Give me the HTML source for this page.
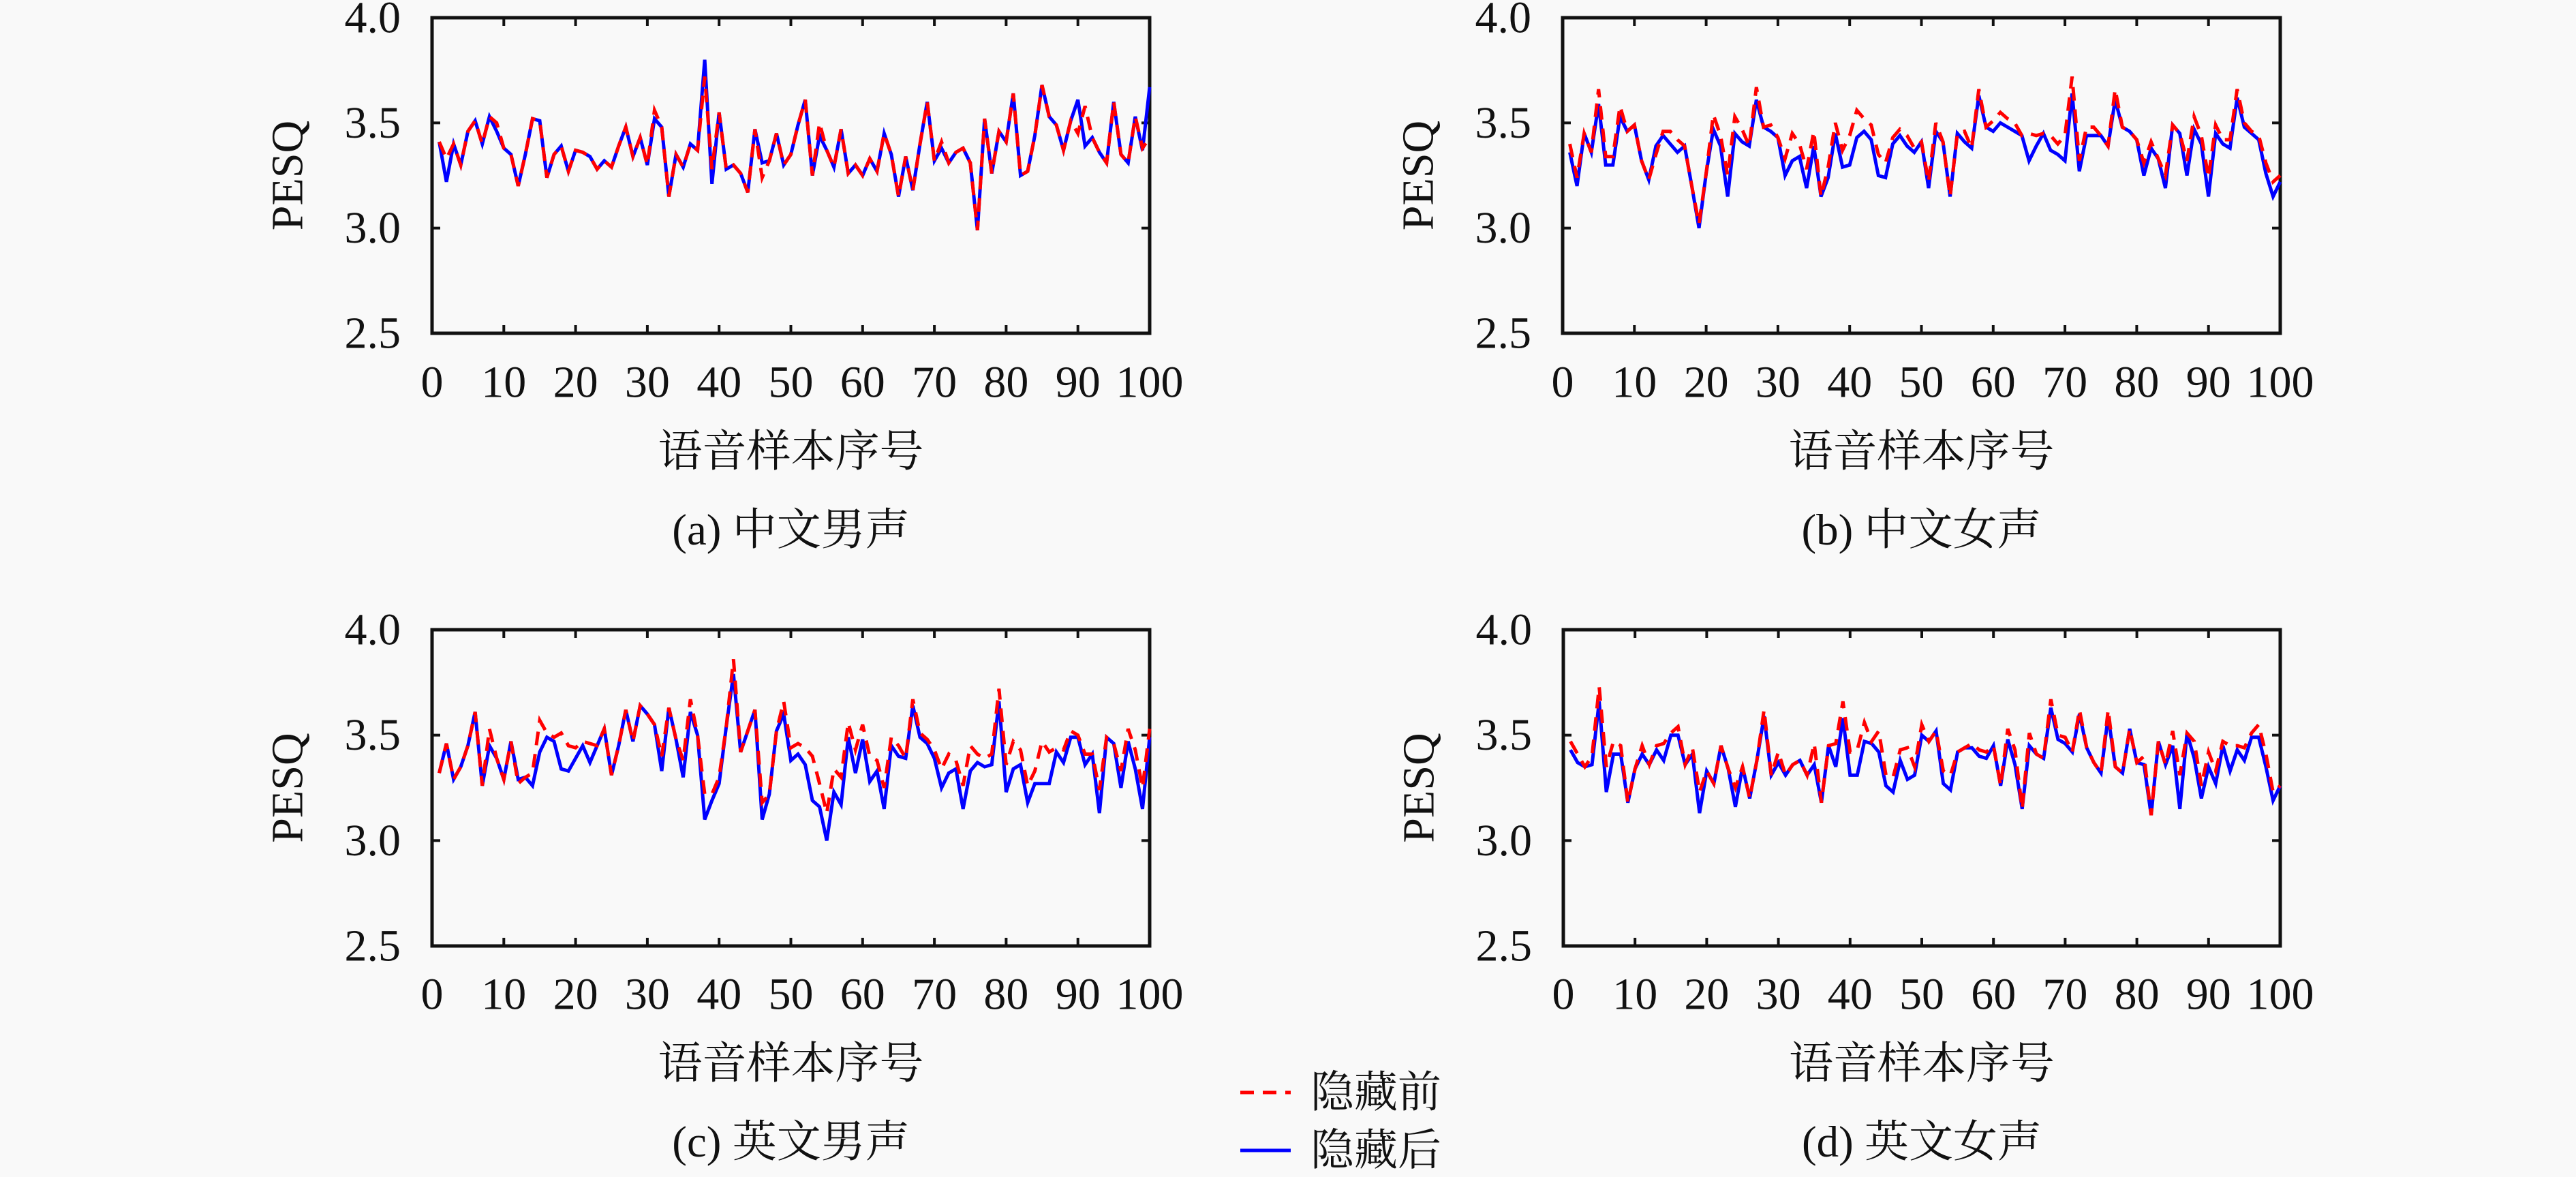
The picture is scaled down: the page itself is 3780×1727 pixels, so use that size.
<!DOCTYPE html>
<html><head><meta charset="utf-8">
<style>
html,body{margin:0;padding:0;background:#f9f9f9;}
svg{display:block;}
text{font-family:"Liberation Serif","Noto Serif CJK SC","Noto Sans CJK SC",serif;fill:#111;}
</style></head>
<body>
<svg id="fig" xmlns="http://www.w3.org/2000/svg" width="3780" height="1727" viewBox="0 0 3780 1727">
<rect x="0" y="0" width="3780" height="1727" fill="#f9f9f9"/>
<g>
  <line x1="1820" y1="1603" x2="1894" y2="1603" stroke="#ff0000" stroke-width="5" stroke-dasharray="20,13"/>
  <text x="1923" y="1603" font-size="64" dominant-baseline="central">隐藏前</text>
  <line x1="1820" y1="1688" x2="1894" y2="1688" stroke="#0000ff" stroke-width="5"/>
  <text x="1923" y="1688" font-size="64" dominant-baseline="central">隐藏后</text>
</g>
</svg>
<script>
const xTicks = [0,10,20,30,40,50,60,70,80,90,100];
const yTicks = [2.5,3.0,3.5,4.0];
const yTickLabels = ["2.5","3.0","3.5","4.0"];
const xLabel = "语音样本序号";
const yLabel = "PESQ";
const captions = ["(a) 中文男声","(b) 中文女声","(c) 英文男声","(d) 英文女声"];

const blueA = [3.41,3.22,3.40,3.30,3.46,3.51,3.40,3.53,3.46,3.38,
3.35,3.20,3.35,3.52,3.51,3.24,3.35,3.39,3.27,3.37,
3.36,3.34,3.28,3.32,3.29,3.39,3.48,3.34,3.43,3.30,
3.52,3.48,3.15,3.35,3.29,3.40,3.37,3.80,3.21,3.55,
3.28,3.30,3.26,3.17,3.47,3.31,3.32,3.45,3.30,3.35,
3.49,3.61,3.25,3.44,3.37,3.29,3.47,3.26,3.30,3.25,
3.33,3.27,3.45,3.35,3.15,3.34,3.18,3.40,3.60,3.32,
3.38,3.31,3.36,3.38,3.31,2.99,3.52,3.26,3.46,3.41,
3.64,3.25,3.27,3.44,3.68,3.53,3.49,3.37,3.51,3.61,
3.39,3.43,3.36,3.31,3.60,3.35,3.31,3.53,3.37,3.67];
const redA = [3.41,3.33,3.40,3.30,3.46,3.51,3.40,3.53,3.50,3.38,
3.35,3.20,3.35,3.52,3.51,3.24,3.35,3.39,3.27,3.37,
3.36,3.34,3.28,3.32,3.29,3.39,3.48,3.34,3.43,3.30,
3.56,3.48,3.15,3.35,3.29,3.40,3.37,3.72,3.28,3.55,
3.28,3.30,3.26,3.17,3.47,3.24,3.32,3.45,3.30,3.35,
3.49,3.61,3.25,3.50,3.37,3.29,3.47,3.26,3.30,3.25,
3.33,3.27,3.45,3.35,3.15,3.34,3.18,3.40,3.60,3.32,
3.41,3.31,3.36,3.38,3.31,2.99,3.52,3.26,3.46,3.41,
3.64,3.25,3.27,3.44,3.68,3.53,3.49,3.37,3.51,3.45,
3.58,3.43,3.36,3.31,3.60,3.35,3.31,3.53,3.38,3.43];
const blueB = [3.36,3.20,3.45,3.36,3.59,3.30,3.30,3.53,3.46,3.49,
3.32,3.23,3.39,3.44,3.40,3.36,3.39,3.20,3.00,3.26,
3.47,3.39,3.15,3.45,3.41,3.39,3.61,3.48,3.46,3.43,
3.25,3.32,3.34,3.19,3.39,3.15,3.24,3.45,3.29,3.30,
3.43,3.46,3.42,3.25,3.24,3.40,3.44,3.39,3.36,3.41,
3.19,3.46,3.41,3.15,3.45,3.41,3.38,3.63,3.48,3.46,
3.50,3.48,3.46,3.44,3.32,3.39,3.45,3.37,3.35,3.32,
3.64,3.27,3.44,3.44,3.44,3.39,3.61,3.48,3.46,3.42,
3.25,3.38,3.33,3.19,3.49,3.45,3.25,3.47,3.40,3.15,
3.45,3.40,3.38,3.62,3.48,3.45,3.42,3.26,3.15,3.22];
const redB = [3.40,3.24,3.45,3.36,3.66,3.34,3.34,3.58,3.46,3.49,
3.32,3.23,3.35,3.46,3.46,3.42,3.39,3.20,3.02,3.26,
3.54,3.44,3.25,3.53,3.47,3.39,3.67,3.48,3.49,3.43,
3.33,3.45,3.40,3.28,3.46,3.15,3.29,3.50,3.37,3.44,
3.56,3.52,3.49,3.35,3.31,3.43,3.47,3.44,3.38,3.41,
3.22,3.50,3.41,3.15,3.45,3.46,3.38,3.66,3.48,3.51,
3.55,3.52,3.50,3.44,3.45,3.44,3.45,3.44,3.40,3.44,
3.72,3.32,3.48,3.48,3.44,3.39,3.66,3.48,3.46,3.42,
3.31,3.41,3.33,3.25,3.49,3.45,3.32,3.53,3.44,3.24,
3.49,3.42,3.42,3.66,3.50,3.46,3.44,3.31,3.22,3.25];
const blueC = [3.32,3.46,3.29,3.35,3.45,3.61,3.26,3.45,3.39,3.29,
3.47,3.29,3.30,3.26,3.42,3.49,3.47,3.34,3.33,3.39,
3.45,3.37,3.45,3.53,3.31,3.45,3.62,3.47,3.64,3.60,
3.55,3.33,3.63,3.48,3.30,3.61,3.50,3.10,3.19,3.27,
3.54,3.79,3.42,3.52,3.62,3.10,3.22,3.52,3.60,3.38,
3.41,3.36,3.19,3.16,3.00,3.23,3.17,3.49,3.32,3.48,
3.28,3.33,3.15,3.45,3.40,3.39,3.64,3.49,3.46,3.39,
3.25,3.32,3.34,3.15,3.33,3.37,3.35,3.36,3.66,3.23,
3.34,3.36,3.18,3.27,3.27,3.27,3.42,3.37,3.49,3.49,
3.36,3.41,3.13,3.49,3.46,3.25,3.47,3.34,3.15,3.49];
const redC = [3.32,3.46,3.29,3.35,3.45,3.61,3.26,3.53,3.39,3.29,
3.47,3.27,3.30,3.32,3.57,3.51,3.49,3.51,3.45,3.44,
3.47,3.46,3.45,3.53,3.31,3.45,3.62,3.47,3.64,3.60,
3.55,3.40,3.63,3.48,3.38,3.67,3.50,3.22,3.22,3.30,
3.54,3.86,3.42,3.52,3.62,3.18,3.22,3.52,3.66,3.44,
3.46,3.44,3.40,3.27,3.13,3.34,3.30,3.56,3.43,3.55,
3.40,3.38,3.25,3.49,3.45,3.39,3.67,3.51,3.48,3.43,
3.34,3.41,3.38,3.26,3.45,3.41,3.39,3.41,3.72,3.36,
3.47,3.43,3.26,3.33,3.47,3.42,3.44,3.43,3.52,3.50,
3.41,3.41,3.24,3.49,3.46,3.33,3.53,3.43,3.25,3.53];
const blueD = [3.43,3.37,3.35,3.36,3.66,3.23,3.41,3.41,3.18,3.34,
3.41,3.36,3.43,3.38,3.50,3.50,3.36,3.41,3.13,3.33,
3.27,3.45,3.34,3.16,3.35,3.20,3.38,3.59,3.31,3.37,
3.31,3.36,3.38,3.31,3.36,3.18,3.45,3.35,3.58,3.31,
3.31,3.47,3.46,3.42,3.26,3.23,3.38,3.29,3.31,3.50,
3.47,3.52,3.27,3.24,3.42,3.44,3.44,3.40,3.39,3.45,
3.26,3.48,3.36,3.15,3.45,3.41,3.39,3.63,3.48,3.46,
3.42,3.60,3.44,3.37,3.32,3.59,3.35,3.32,3.53,3.37,
3.36,3.12,3.47,3.36,3.45,3.15,3.51,3.39,3.20,3.35,
3.27,3.45,3.33,3.43,3.38,3.49,3.49,3.35,3.19,3.26];
const redD = [3.47,3.41,3.35,3.40,3.73,3.35,3.47,3.45,3.18,3.34,
3.45,3.36,3.45,3.46,3.51,3.54,3.36,3.44,3.23,3.33,
3.27,3.45,3.34,3.25,3.35,3.20,3.38,3.62,3.31,3.42,
3.31,3.36,3.38,3.31,3.46,3.18,3.45,3.46,3.66,3.42,
3.43,3.56,3.47,3.52,3.31,3.30,3.43,3.44,3.35,3.55,
3.47,3.52,3.33,3.31,3.42,3.44,3.46,3.43,3.42,3.45,
3.26,3.53,3.43,3.15,3.51,3.41,3.39,3.67,3.50,3.49,
3.42,3.62,3.44,3.37,3.32,3.62,3.35,3.32,3.53,3.37,
3.40,3.12,3.47,3.36,3.52,3.31,3.51,3.47,3.26,3.42,
3.33,3.47,3.45,3.45,3.44,3.51,3.55,3.41,3.23,3.26];

const NS = "http://www.w3.org/2000/svg";
const svg = document.getElementById("fig");
const panels = [
  {id:"a", x0:634, x1:1687, y0:26, y1:489, blue:blueA, red:redA},
  {id:"b", x0:2293, x1:3346, y0:26, y1:489, blue:blueB, red:redB},
  {id:"c", x0:634, x1:1687, y0:924, y1:1388, blue:blueC, red:redC},
  {id:"d", x0:2294, x1:3346, y0:924, y1:1388, blue:blueD, red:redD}
];
function mk(tag, attrs, parent){
  const e = document.createElementNS(NS, tag);
  for (const k in attrs) e.setAttribute(k, attrs[k]);
  parent.appendChild(e);
  return e;
}
panels.forEach((p, pi) => {
  const xs = v => p.x0 + (v - 0) / 100 * (p.x1 - p.x0);
  const ys = v => p.y1 - (v - 2.5) / 1.5 * (p.y1 - p.y0);
  const g = mk("g", {}, svg);
  
  

  const frame = mk("rect", {x:p.x0, y:p.y0, width:p.x1-p.x0, height:p.y1-p.y0, fill:"none", stroke:"#111", "stroke-width":5}, g);
  
  

  xTicks.forEach(t => {
    const x = xs(t);
    const tb = mk("line", {x1:x, y1:p.y1, x2:x, y2:p.y1-12, stroke:"#111", "stroke-width":4}, g);
    
    
    const tt = mk("line", {x1:x, y1:p.y0, x2:x, y2:p.y0+12, stroke:"#111", "stroke-width":4}, g);
    
    
    const lb = mk("text", {x:x, y:p.y0+535, "font-size":66, "text-anchor":"middle", "dominant-baseline":"central"}, g);
    lb.textContent = String(t);
    
    
  });
  yTicks.forEach((t, i) => {
    const y = ys(t);
    const tl = mk("line", {x1:p.x0, y1:y, x2:p.x0+12, y2:y, stroke:"#111", "stroke-width":4}, g);
    
    
    const tr = mk("line", {x1:p.x1, y1:y, x2:p.x1-12, y2:y, stroke:"#111", "stroke-width":4}, g);
    
    
    const lb = mk("text", {x:p.x0-46, y:y, "font-size":66, "text-anchor":"end", "dominant-baseline":"central"}, g);
    lb.textContent = yTickLabels[i];
    
    
  });
  const cy = (p.y0 + p.y1) / 2;
  const yl = mk("text", {x:p.x0-212, y:cy, "font-size":66, "text-anchor":"middle", "dominant-baseline":"central", transform:"rotate(-90 " + (p.x0-212) + " " + cy + ")"}, g);
  yl.textContent = yLabel;
  
  
  const cx = (p.x0 + p.x1) / 2;
  const xl = mk("text", {x:cx, y:p.y0+637, "font-size":65, "text-anchor":"middle", "dominant-baseline":"central"}, g);
  xl.textContent = xLabel;
  
  
  const cap = mk("text", {x:cx, y:p.y0+752, "font-size":65, "text-anchor":"middle", "dominant-baseline":"central"}, g);
  cap.textContent = captions[pi];
  
  

  const pts = arr => arr.map((v, i) => xs(i + 1).toFixed(1) + "," + ys(v).toFixed(1)).join(" ");
  const bl = mk("polyline", {points:pts(p.blue), fill:"none", stroke:"#0000ff", "stroke-width":5, "stroke-linejoin":"miter"}, g);
  
  
  const rl = mk("polyline", {points:pts(p.red), fill:"none", stroke:"#ff0000", "stroke-width":5, "stroke-dasharray":"20,13"}, g);
  
  
});
</script>
</body></html>
